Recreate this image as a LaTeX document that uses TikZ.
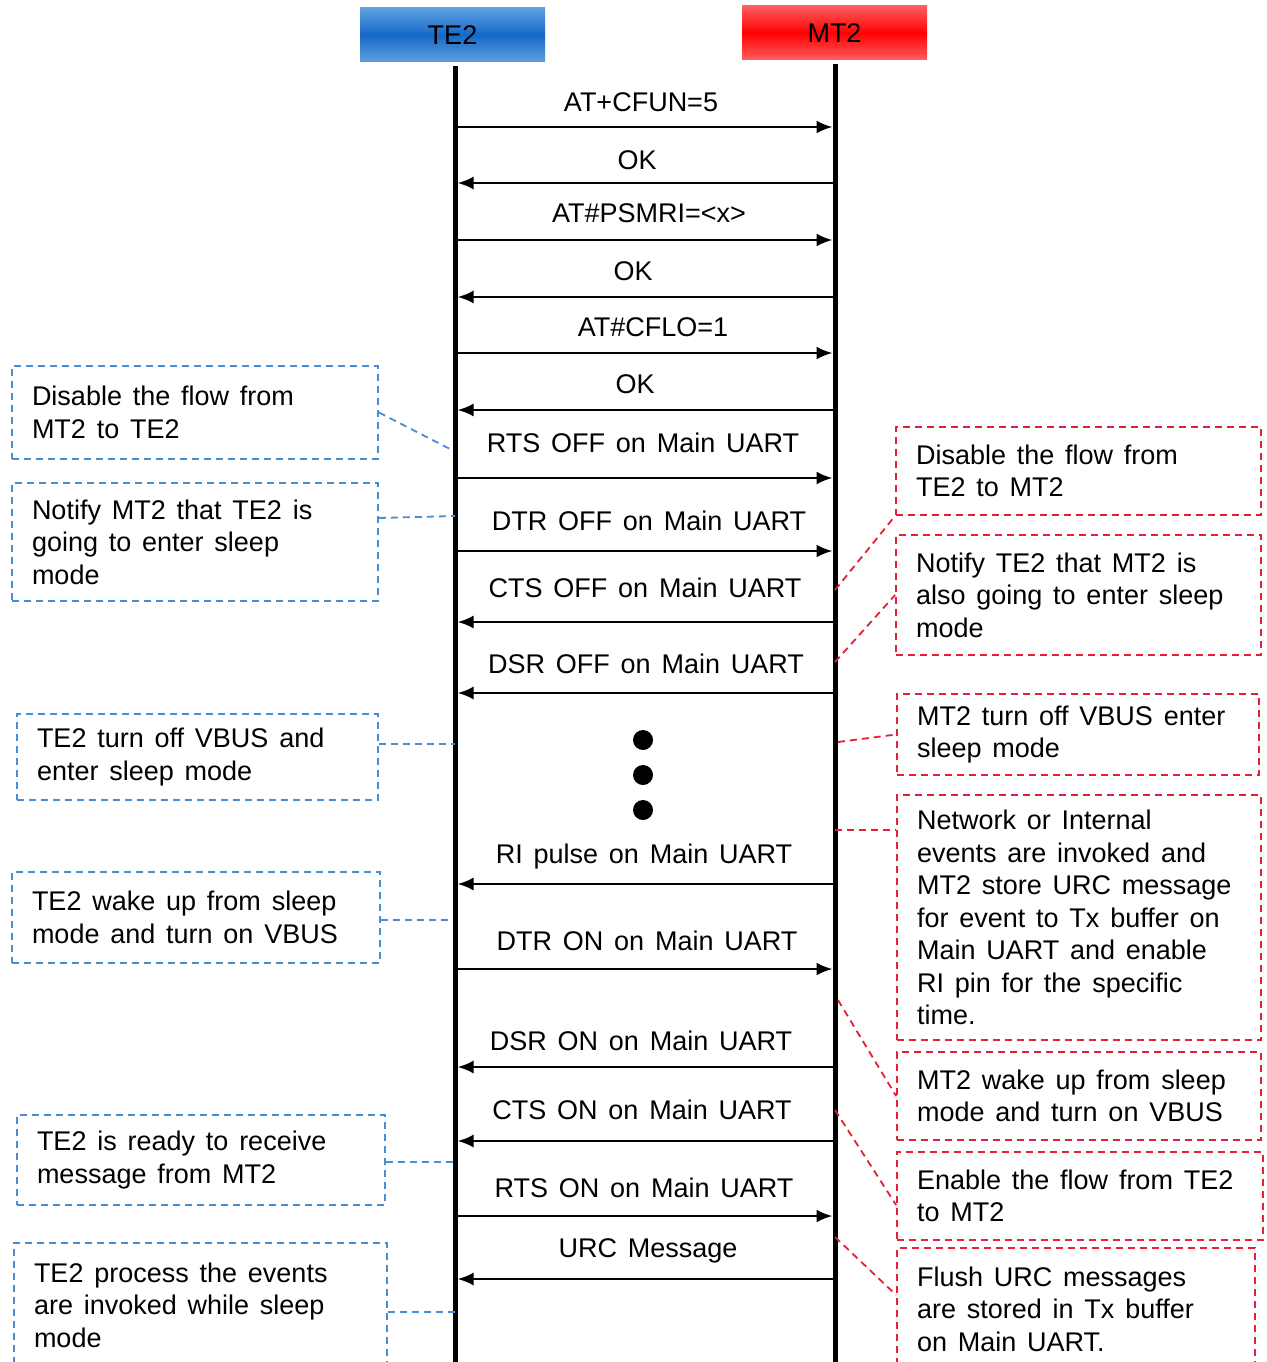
\documentclass[tikz,border=0pt]{standalone}
\usepackage{fontspec}
\setmainfont{Liberation Sans}
\usetikzlibrary{arrows.meta,calc}
\definecolor{bluedash}{RGB}{72,142,210}
\definecolor{reddash}{RGB}{228,32,52}
\definecolor{hblueA}{RGB}{95,160,225}
\definecolor{hblueB}{RGB}{22,105,200}
\definecolor{hredA}{RGB}{255,95,95}
\definecolor{hredB}{RGB}{255,0,0}
\newcommand{\diagfont}{\fontsize{27}{32.5}\selectfont\spaceskip=10.8pt\relax}
\begin{document}
\begin{tikzpicture}[x=1pt,y=-1pt,
  txt/.style={font=\diagfont, inner sep=0pt},
  hdr/.style={font=\fontsize{27}{32}\selectfont, minimum width=185pt, minimum height=54pt, inner sep=0pt},
  life/.style={line width=5pt, black},
  msg/.style={line width=2.5pt, black, -{Latex[length=16pt,width=13pt]}, shorten >=2.5pt, shorten <=2.5pt},
  note/.style={dash pattern=on 7pt off 5pt, line width=1.8pt, font=\diagfont, align=left, inner xsep=20pt, inner ysep=0pt, execute at begin node={\spaceskip=10.8pt\relax}},
  lbox/.style={note, draw=bluedash},
  rbox/.style={note, draw=reddash},
  lconn/.style={draw=bluedash, dash pattern=on 7pt off 5pt, line width=1.8pt},
  rconn/.style={draw=reddash, dash pattern=on 7pt off 5pt, line width=1.8pt},
  dot/.style={circle, fill=black, minimum size=20pt, inner sep=0pt}
]
\clip (0,0) rectangle (1266,1362);
\fill[white] (0,0) rectangle (1266,1362);

% headers
\node[hdr, top color=hblueA, bottom color=hblueA, middle color=hblueB] (te2) at (452.5,35) {TE2};
\node[hdr, top color=hredA, bottom color=hredA, middle color=hredB] (mt2) at (834.5,33) {MT2};

% lifelines
\coordinate (te2top) at (455,66);
\coordinate (te2bot) at (455,1370);
\coordinate (mt2top) at (835,64);
\coordinate (mt2bot) at (835,1370);
\draw[life] (te2top) -- (te2bot);
\draw[life] (mt2top) -- (mt2bot);

% messages
\coordinate (t1) at (455,127);  \coordinate (m1) at (835,127);
\node[txt] (l1) at (641,102) {AT+CFUN=5};
\draw[msg] (t1) -- (m1);
\coordinate (t2) at (455,183);  \coordinate (m2) at (835,183);
\node[txt] (l2) at (637,160) {OK};
\draw[msg] (m2) -- (t2);
\coordinate (t3) at (455,240);  \coordinate (m3) at (835,240);
\node[txt] (l3) at (649,213) {AT\#PSMRI=<x>};
\draw[msg] (t3) -- (m3);
\coordinate (t4) at (455,297);  \coordinate (m4) at (835,297);
\node[txt] (l4) at (633,271) {OK};
\draw[msg] (m4) -- (t4);
\coordinate (t5) at (455,353);  \coordinate (m5) at (835,353);
\node[txt] (l5) at (653,327) {AT\#CFLO=1};
\draw[msg] (t5) -- (m5);
\coordinate (t6) at (455,410);  \coordinate (m6) at (835,410);
\node[txt] (l6) at (635,384) {OK};
\draw[msg] (m6) -- (t6);
\coordinate (t7) at (455,478);  \coordinate (m7) at (835,478);
\node[txt] (l7) at (643,443) {RTS OFF on Main UART};
\draw[msg] (t7) -- (m7);
\coordinate (t8) at (455,551);  \coordinate (m8) at (835,551);
\node[txt] (l8) at (649,521) {DTR OFF on Main UART};
\draw[msg] (t8) -- (m8);
\coordinate (t9) at (455,622);  \coordinate (m9) at (835,622);
\node[txt] (l9) at (645,588) {CTS OFF on Main UART};
\draw[msg] (m9) -- (t9);
\coordinate (t10) at (455,693);  \coordinate (m10) at (835,693);
\node[txt] (l10) at (646,664) {DSR OFF on Main UART};
\draw[msg] (m10) -- (t10);

\node[dot] (d1) at (643,740) {};
\node[dot] (d2) at (643,775) {};
\node[dot] (d3) at (643,810) {};

\coordinate (t11) at (455,884);  \coordinate (m11) at (835,884);
\node[txt] (l11) at (644,857) {RI pulse on Main UART};
\draw[msg] (m11) -- (t11);
\coordinate (t12) at (455,969);  \coordinate (m12) at (835,969);
\node[txt] (l12) at (647,941) {DTR ON on Main UART};
\draw[msg] (t12) -- (m12);
\coordinate (t13) at (455,1067);  \coordinate (m13) at (835,1067);
\node[txt] (l13) at (641,1041) {DSR ON on Main UART};
\draw[msg] (m13) -- (t13);
\coordinate (t14) at (455,1141);  \coordinate (m14) at (835,1141);
\node[txt] (l14) at (642,1110) {CTS ON on Main UART};
\draw[msg] (m14) -- (t14);
\coordinate (t15) at (455,1216);  \coordinate (m15) at (835,1216);
\node[txt] (l15) at (644,1188) {RTS ON on Main UART};
\draw[msg] (t15) -- (m15);
\coordinate (t16) at (455,1279);  \coordinate (m16) at (835,1279);
\node[txt] (l16) at (648,1251) {URC Message};
\draw[msg] (m16) -- (t16);

% left notes
\node[lbox, text width=326pt, minimum height=93pt] (b1) at (195,412.5) {Disable the flow from\\MT2 to TE2};
\node[lbox, text width=326pt, minimum height=118pt] (b2) at (195,542) {Notify MT2 that TE2 is\\going to enter sleep\\mode};
\node[lbox, text width=321pt, minimum height=86pt] (b3) at (197.5,757) {TE2 turn off VBUS and\\enter sleep mode};
\node[lbox, text width=328pt, minimum height=91pt] (b4) at (196,917.5) {TE2 wake up from sleep\\mode and turn on VBUS};
\node[lbox, text width=328pt, minimum height=90pt] (b5) at (201,1160) {TE2 is ready to receive\\message from MT2};
\node[lbox, text width=333pt, minimum height=124pt] (b6) at (200.5,1305) {TE2 process the events\\are invoked while sleep\\mode};

\coordinate (c1) at (452,450);
\coordinate (c2) at (455,516);
\coordinate (c3) at (455,744);
\coordinate (c4) at (452,920);
\coordinate (c5) at (455,1162);
\coordinate (c6) at (455,1312);
\draw[lconn] (b1.east) -- (c1);
\draw[lconn] ([yshift=24pt]b2.east) -- (c2);
\draw[lconn] ([yshift=13pt]b3.east) -- (c3);
\draw[lconn] ([yshift=-2.5pt]b4.east) -- (c4);
\draw[lconn] ([yshift=-2pt]b5.east) -- (c5);
\draw[lconn] ([yshift=-7pt]b6.east) -- (c6);

% right notes
\node[rbox, text width=325pt, minimum height=88pt] (r1) at (1078.5,471) {Disable the flow from\\TE2 to MT2};
\node[rbox, text width=325pt, minimum height=120pt] (r2) at (1078.5,595) {Notify TE2 that MT2 is\\also going to enter sleep\\mode};
\node[rbox, text width=322pt, minimum height=81pt] (r3) at (1078,734.5) {MT2 turn off VBUS enter\\sleep mode};
\node[rbox, text width=324pt, minimum height=245pt] (r4) at (1079,917.5) {Network or Internal\\events are invoked and\\MT2 store URC message\\for event to Tx buffer on\\Main UART and enable\\RI pin for the specific\\time.};
\node[rbox, text width=324pt, minimum height=88pt] (r5) at (1079,1096) {MT2 wake up from sleep\\mode and turn on VBUS};
\node[rbox, text width=326pt, minimum height=88pt] (r6) at (1080,1196) {Enable the flow from TE2\\to MT2};
\node[rbox, text width=318pt, minimum height=122pt] (r7) at (1076,1309) {Flush URC messages\\are stored in Tx buffer\\on Main UART.};

\coordinate (e1) at (835,590);
\coordinate (e2) at (835,662);
\coordinate (e3) at (838,742);
\coordinate (e4) at (835,830);
\coordinate (e5) at (838,1000);
\coordinate (e6) at (835,1110);
\coordinate (e7) at (835,1237);
\draw[rconn] (e1) -- (r1.south west);
\draw[rconn] (e2) -- (r2.west);
\draw[rconn] (e3) -- (r3.west);
\draw[rconn] (e4) -- ([yshift=87.5pt]r4.west);
\draw[rconn] (e5) -- (r5.west);
\draw[rconn] (e6) -- ([yshift=-9pt]r6.west);
\draw[rconn] (e7) -- ([yshift=14pt]r7.west);
\end{tikzpicture}
\end{document}
